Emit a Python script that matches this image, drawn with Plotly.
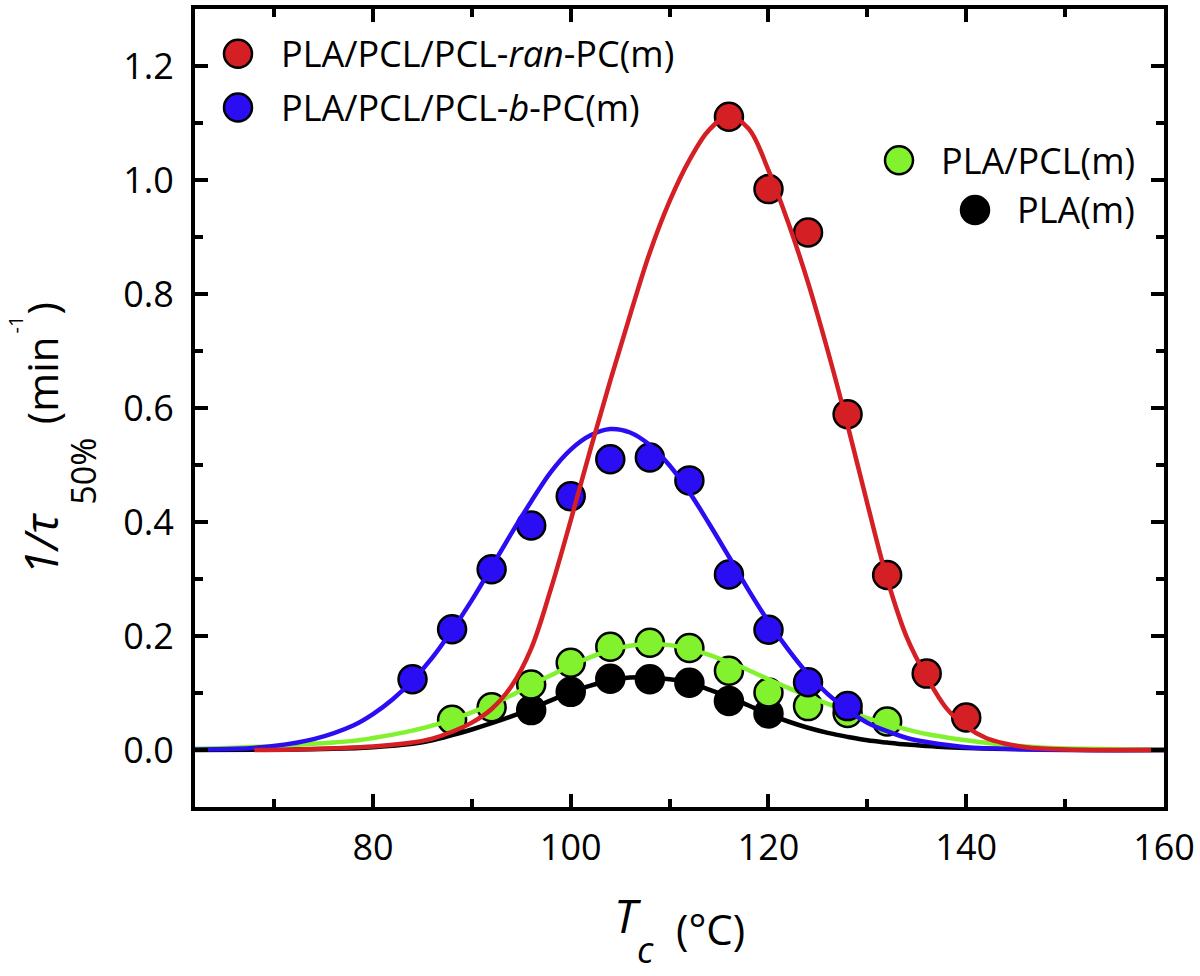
import plotly.graph_objects as go

tc_ran = [116, 120, 124, 128, 132, 136, 140]
rate_ran = [1.111, 0.984, 0.908, 0.589, 0.307, 0.134, 0.057]

tc_b = [84, 88, 92, 96, 100, 104, 108, 112, 116, 120, 124, 128]
rate_b = [0.124, 0.212, 0.317, 0.394, 0.445, 0.510, 0.513, 0.473, 0.308, 0.211, 0.119, 0.077]

tc_blend = [88, 92, 96, 100, 104, 108, 112, 116, 120, 124, 128, 132]
rate_blend = [0.053, 0.075, 0.115, 0.153, 0.181, 0.188, 0.179, 0.139, 0.101, 0.077, 0.065, 0.050]

tc_pla = [96, 100, 104, 108, 112, 116, 120]
rate_pla = [0.070, 0.102, 0.125, 0.124, 0.118, 0.086, 0.064]

# ---------------- fitted curves ----------------
fit_t_ran = [68, 72, 76, 80, 84, 86, 88, 90, 92, 94, 96, 98, 100, 102, 104, 106, 108, 110,
             112, 114, 116, 118, 120, 122, 124, 126, 128, 130, 132, 134, 136, 138, 140,
             142, 144, 146, 150, 155, 160]
fit_ran = [0.0, 0.001, 0.003, 0.006, 0.013, 0.02, 0.032, 0.048, 0.072, 0.112, 0.178, 0.283,
           0.403, 0.528, 0.648, 0.763, 0.873, 0.963, 1.035, 1.088, 1.112, 1.09, 1.017, 0.925,
           0.82, 0.70, 0.57, 0.432, 0.30, 0.197, 0.128, 0.073, 0.041, 0.021, 0.011, 0.005,
           0.001, 0.0, 0.0]

fit_t_b = [62, 66, 70, 74, 78, 80, 82, 84, 86, 88, 90, 92, 94, 96, 98, 100, 102, 104, 106,
           108, 110, 112, 114, 116, 118, 120, 122, 124, 126, 128, 130, 132, 134, 136, 140,
           144, 150, 160]
fit_b = [0.001, 0.002, 0.007, 0.019, 0.043, 0.063, 0.089, 0.122, 0.162, 0.21, 0.263, 0.321,
         0.38, 0.436, 0.488, 0.527, 0.552, 0.563, 0.557, 0.535, 0.499, 0.452, 0.397, 0.339,
         0.28, 0.225, 0.176, 0.133, 0.098, 0.07, 0.048, 0.033, 0.021, 0.014, 0.005, 0.002,
         0.0, 0.0]

fit_t_blend = [62, 66, 70, 74, 78, 80, 82, 84, 86, 88, 90, 92, 94, 96, 98, 100, 102, 104,
               106, 108, 110, 112, 114, 116, 118, 120, 122, 124, 126, 128, 130, 132, 134,
               136, 138, 140, 144, 148, 152, 160]
fit_blend = [0.002, 0.004, 0.007, 0.011, 0.016, 0.021, 0.027, 0.034, 0.043, 0.053, 0.066,
             0.08, 0.096, 0.114, 0.131, 0.148, 0.163, 0.175, 0.183, 0.186, 0.184, 0.177,
             0.167, 0.154, 0.14, 0.124, 0.109, 0.094, 0.081, 0.068, 0.056, 0.045, 0.036,
             0.028, 0.022, 0.017, 0.009, 0.004, 0.002, 0.0]

fit_t_pla = [62, 70, 76, 80, 84, 86, 88, 90, 92, 94, 96, 98, 100, 102, 104, 106, 108, 110,
             112, 114, 116, 118, 120, 122, 124, 126, 128, 130, 132, 134, 136, 138, 142, 148,
             155, 160]
fit_pla = [0.0, 0.0005, 0.002, 0.005, 0.011, 0.017, 0.026, 0.036, 0.047, 0.059, 0.072,
           0.087, 0.101, 0.113, 0.122, 0.127, 0.127, 0.124, 0.118, 0.106, 0.093, 0.078,
           0.063, 0.05, 0.039, 0.030, 0.023, 0.017, 0.013, 0.0095, 0.007, 0.005, 0.0025,
           0.001, 0.0, 0.0]

legend_names = ["PLA/PCL/PCL-<i>ran</i>-PC(m)", "PLA/PCL/PCL-<i>b</i>-PC(m)",
                "PLA/PCL(m)", "PLA(m)"]

RED = "#D41F24"
BLUE = "#2A0DF2"
GREEN = "#82F22E"
BLACK = "#000000"
FONT = "Open Sans"

fig = go.Figure()

series = [
    (tc_pla, rate_pla, fit_t_pla, fit_pla, BLACK),
    (tc_blend, rate_blend, fit_t_blend, fit_blend, GREEN),
    (tc_b, rate_b, fit_t_b, fit_b, BLUE),
    (tc_ran, rate_ran, fit_t_ran, fit_ran, RED),
]
for tx, ty, fx, fy, col in series:
    fig.add_trace(go.Scatter(
        x=tx, y=ty, mode="markers", showlegend=False,
        marker=dict(size=28, color=col, line=dict(color="black", width=2.5))))
    fig.add_trace(go.Scatter(
        x=fx, y=fy, mode="lines", showlegend=False,
        line=dict(color=col, width=4.5, shape="spline", smoothing=1.0)))

# plot area in pixels: left 195, right 1164, top 5, bottom 807
L, R, T, B = 195, 1164, 5, 807
W, H = R - L, B - T


def px(x):
    return (x - L) / W


def py(y):
    return (B - y) / H


shapes = []
annotations = []

# legend (custom, large markers)
leg = [
    (238, 50, RED, "black", legend_names[0], 279, "left"),
    (238, 104, BLUE, "black", legend_names[1], 279, "left"),
    (899, 157, GREEN, "black", legend_names[2], 1137, "right"),
    (975, 207, BLACK, "black", legend_names[3], 1137, "right"),
]
for cx, cy, col, lc, txt, tx, anc in leg:
    shapes.append(dict(type="circle", xref="paper", yref="paper",
                       xsizemode="pixel", ysizemode="pixel",
                       xanchor=px(cx), yanchor=py(cy),
                       x0=-14, x1=14, y0=-14, y1=14,
                       fillcolor=col, line=dict(color=lc, width=2.5), layer="above"))
    annotations.append(dict(text=txt, xref="paper", yref="paper", x=px(tx), y=py(cy),
                            xanchor=anc, yanchor="middle", showarrow=False,
                            font=dict(family=FONT, size=36, color="black")))

# y-axis title pieces (rotated)
ytitle = [
    ("<i>1/τ</i>", 40, 543, 46),
    ("50%", 83, 470, 34),
    ("(min", 41, 378, 42),
    ("-1", 15, 322, 20),
    (")", 41, 306, 42),
]
for txt, cx, cy, fs in ytitle:
    annotations.append(dict(text=txt, xref="paper", yref="paper", x=px(cx), y=py(cy),
                            xanchor="center", yanchor="middle", showarrow=False,
                            textangle=-90,
                            font=dict(family=FONT, size=fs, color="black")))

# x-axis title pieces
xtitle = [
    ("<i>T</i>", 628, 916, 46),
    ("<i>c</i>", 645, 950, 36),
    ("(°C)", 710, 929, 42),
]
for txt, cx, cy, fs in xtitle:
    annotations.append(dict(text=txt, xref="paper", yref="paper", x=px(cx), y=py(cy),
                            xanchor="center", yanchor="middle", showarrow=False,
                            font=dict(family=FONT, size=fs, color="black")))

axis_common = dict(
    showline=True, linecolor="black", linewidth=4, mirror="ticks",
    ticks="inside", ticklen=13, tickwidth=3.5, tickcolor="black",
    showgrid=False, zeroline=False,
    tickfont=dict(family=FONT, size=36, color="black"),
)

fig.update_layout(
    width=1200, height=976,
    margin=dict(l=L, r=1200 - R, t=T, b=976 - B),
    paper_bgcolor="white", plot_bgcolor="white",
    xaxis=dict(range=[62, 160], tick0=0, dtick=20, ticklabelstandoff=6,
               minor=dict(dtick=10, tick0=0, ticks="inside", ticklen=8,
                          tickwidth=3.5, tickcolor="black", showgrid=False),
               **axis_common),
    yaxis=dict(range=[-0.1, 1.3], tick0=0, dtick=0.2, tickformat=".1f",
               ticklabelstandoff=10,
               minor=dict(dtick=0.1, tick0=0, ticks="inside", ticklen=8,
                          tickwidth=3.5, tickcolor="black", showgrid=False),
               **axis_common),
    shapes=shapes,
    annotations=annotations,
    showlegend=False,
)

fig.write_html("out.html", config={"displayModeBar": False},
               post_script="document.body.style.margin='0';")
